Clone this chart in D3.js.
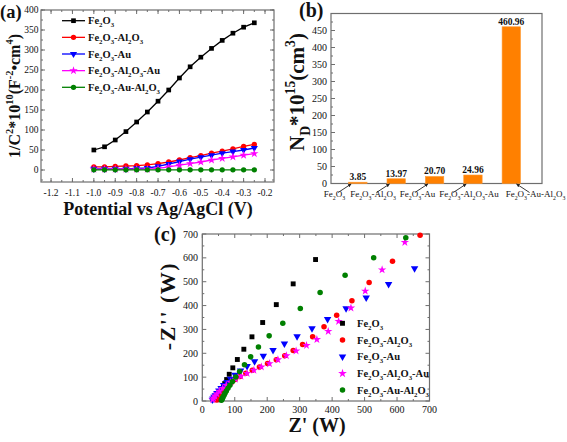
<!DOCTYPE html>
<html><head><meta charset="utf-8">
<script src="https://cdn.jsdelivr.net/npm/d3@7"></script>
<style>
html,body{margin:0;padding:0;background:#fff;}
svg{display:block;font-family:"Liberation Serif","Times New Roman",serif;}
</style></head>
<body>
<svg id="fig" width="567" height="442"></svg>
<script>
// ---------- Panel (a) data ----------
const aPotential = [-1.0,-0.95,-0.9,-0.85,-0.8,-0.75,-0.7,-0.65,-0.6,-0.55,-0.5,-0.45,-0.4,-0.35,-0.3,-0.25];
const aFe2O3      = [50,58,75,96,120,145,172,200,230,258,282,304,324,342,357,368];
const aFe2O3Al2O3 = [8,8,9,10,11,13,16,20,25,31,36,42,47,53,59,64];
const aFe2O3Au    = [3,3,3,3,4,5,9,15,21,27,32,37,42,46,50,55];
const aFe2O3Al2O3Au = [2,2,2,2,2,2,4,8,12,16,20,25,29,33,37,41];
const aFe2O3AuAl2O3 = [0.5,0.5,0.5,0.5,0.5,0.5,0.5,0.5,0.5,0.5,0.5,0.5,0.5,0.5,0.5,0.5];
const aXTicks = [-1.2,-1.1,-1.0,-0.9,-0.8,-0.7,-0.6,-0.5,-0.4,-0.3,-0.2];
const aYTicks = [0,50,100,150,200,250,300,350,400];

// ---------- Panel (b) data ----------
const bCategories = ["Fe_{2}O_{3}","Fe_{2}O_{3}-Al_{2}O_{3}","Fe_{2}O_{3}-Au","Fe_{2}O_{3}-Al_{2}O_{3}-Au","Fe_{2}O_{3}-Au-Al_{2}O_{3}"];
const bValues = [3.85,13.97,20.70,24.96,460.96];
const bValueLabels = ["3.85","13.97","20.70","24.96","460.96"];
const bYTicks = [0,50,100,150,200,250,300,350,400,450];

// ---------- Panel (c) data (Z', -Z'') ----------
const cFe2O3 = [[349,593],[280,491],[228,404],[186,329],[153,269],[128,217],[108,174],[94,139],[83,112],[75,90],[69,73],[65,58],[62,46],[60,36],[58,27],[57,20],[56,14],[55,9],[54,5]];
const cFe2O3Al2O3 = [[671,695],[586,586],[514,497],[461,420],[414,359],[375,311],[340,269],[309,237],[280,212],[254,190],[228,173],[201,157],[176,142],[154,129],[134,116],[116,103],[101,90],[89,77],[79,64],[71,52],[64,41],[58,31],[53,22],[49,15],[46,9],[44,4]];
const cFe2O3Au = [[654,556],[574,490],[505,433],[443,388],[386,343],[338,304],[292,271],[253,240],[218,213],[188,189],[161,166],[138,146],[118,127],[101,109],[87,93],[76,79],[66,66],[58,54],[51,43],[45,33],[40,24],[36,17],[33,10],[31,5]];
const cFe2O3Al2O3Au = [[624,665],[554,550],[502,461],[458,390],[420,334],[388,292],[353,258],[321,233],[289,210],[259,190],[233,173],[207,157],[182,143],[159,129],[138,116],[119,104],[102,92],[87,79],[74,66],[63,53],[53,41],[45,30],[39,20],[35,12],[32,6]];
const cFe2O3AuAl2O3 = [[627,684],[528,600],[440,527],[363,455],[302,388],[248,326],[206,273],[173,226],[149,185],[130,152],[115,124],[103,101],[93,82],[85,66],[79,53],[74,42],[70,32],[67,24],[64,17],[62,11],[60,6],[59,3]];
const cTicks = [0,100,200,300,400,500,600,700];

const seriesNames = ["Fe_{2}O_{3}","Fe_{2}O_{3}-Al_{2}O_{3}","Fe_{2}O_{3}-Au","Fe_{2}O_{3}-Al_{2}O_{3}-Au","Fe_{2}O_{3}-Au-Al_{2}O_{3}"];
const seriesColors = ["#000000","#ff0000","#0000ff","#ff00ff","#008000"];
const symTypes = [d3.symbolSquare, d3.symbolCircle, d3.symbolTriangle, d3.symbolStar, d3.symbolCircle];
const symRot = [0,0,180,0,0];

const svg = d3.select("#fig");
svg.append("rect").attr("width",567).attr("height",442).attr("fill","#fff");
const frameColor = "#6e6e6e";
const textColor = "#111";

function rich(sel, str, size){
  const re = /([_^])\{([^}]*)\}|([^_^]+)/g;
  let m, cur = 0;
  while((m = re.exec(str))){
    let tgt, txt, fs;
    if(m[3]){ tgt = 0; txt = m[3]; fs = size; }
    else { tgt = m[1]==="_" ? 0.3*size : -0.42*size; txt = m[2]; fs = size*0.65; }
    sel.append("tspan").attr("font-size", fs).attr("dy", tgt-cur).text(txt);
    cur = tgt;
  }
}

function symbolPath(i, size){ return d3.symbol().type(symTypes[i]).size(size)(); }

function frame(g, x0, x1, y0, y1){
  g.append("rect").attr("x",x0).attr("y",y1).attr("width",x1-x0).attr("height",y0-y1)
    .attr("fill","none").attr("stroke",frameColor).attr("stroke-width",1.2);
}

function ticksX(g, xs, vals, y, dir, len){
  g.selectAll(null).data(vals).enter().append("line")
    .attr("x1",d=>xs(d)).attr("x2",d=>xs(d)).attr("y1",y).attr("y2",y+dir*len)
    .attr("stroke",frameColor).attr("stroke-width",1);
}
function ticksY(g, ys, vals, x, dir, len){
  g.selectAll(null).data(vals).enter().append("line")
    .attr("y1",d=>ys(d)).attr("y2",d=>ys(d)).attr("x1",x).attr("x2",x+dir*len)
    .attr("stroke",frameColor).attr("stroke-width",1);
}
function range(a,b,s){ const r=[]; for(let v=a; v<=b+1e-9; v+=s) r.push(+v.toFixed(4)); return r; }

// ================= Panel (a) =================
{
  const g = svg.append("g");
  const x = d3.scaleLinear().domain([-1.247,-0.158]).range([41,274]);
  const y = d3.scaleLinear().domain([-30,400]).range([182,10]);
  const xMin = range(-1.2,-0.2,0.05), yMin = range(-25,400,25);
  ticksX(g,x,xMin,182,-1,2); ticksX(g,x,aXTicks,182,-1,4);
  ticksX(g,x,xMin,10,1,2); ticksX(g,x,aXTicks,10,1,4);
  ticksY(g,y,yMin,41,1,2); ticksY(g,y,aYTicks,41,1,4);
  ticksY(g,y,yMin,274,-1,2); ticksY(g,y,aYTicks,274,-1,4);
  frame(g,41,274,182,10);
  g.selectAll(null).data(aXTicks).enter().append("text")
    .attr("x",d=>x(d)).attr("y",196).attr("text-anchor","middle").attr("font-size",9.5).attr("fill",textColor)
    .text(d=>d.toFixed(1));
  g.selectAll(null).data(aYTicks).enter().append("text")
    .attr("x",38.5).attr("y",d=>y(d)+3.3).attr("text-anchor","end").attr("font-size",9.5).attr("fill",textColor)
    .text(d=>d);
  const all = [aFe2O3,aFe2O3Al2O3,aFe2O3Au,aFe2O3Al2O3Au,aFe2O3AuAl2O3];
  const line = d3.line().x((d,i)=>x(aPotential[i])).y(d=>y(d));
  all.forEach((s,k)=>{
    g.append("path").attr("d",line(s)).attr("fill","none").attr("stroke",seriesColors[k]).attr("stroke-width",1.3);
    g.selectAll(null).data(s).enter().append("path")
      .attr("d",symbolPath(k,22))
      .attr("transform",(d,i)=>`translate(${x(aPotential[i])},${y(d)}) rotate(${symRot[k]})`)
      .attr("fill",seriesColors[k]);
  });
  seriesNames.forEach((n,k)=>{
    const yy = 20.7 + k*16.65;
    g.append("line").attr("x1",62).attr("x2",85).attr("y1",yy).attr("y2",yy).attr("stroke",seriesColors[k]).attr("stroke-width",1.3);
    g.append("path").attr("d",symbolPath(k,22)).attr("transform",`translate(73.5,${yy}) rotate(${symRot[k]})`).attr("fill",seriesColors[k]);
    const t = g.append("text").attr("x",88).attr("y",yy+3.5).attr("font-weight","bold").attr("fill",textColor);
    rich(t,n,10.5);
  });
  const yl = g.append("text").attr("transform","rotate(-90)").attr("x",-96).attr("y",20)
    .attr("text-anchor","middle").attr("font-weight","bold").attr("fill",textColor);
  rich(yl,"1/C^{2}*10^{10}(F^{-2}•cm^{4})",16);
  g.append("text").attr("x",158).attr("y",215).attr("text-anchor","middle").attr("font-weight","bold")
    .attr("font-size",18).attr("fill",textColor).text("Potential vs Ag/AgCl (V)");
  g.append("text").attr("x",0).attr("y",18).attr("font-weight","bold").attr("font-size",18.5).attr("fill",textColor).text("(a)");
}

// ================= Panel (b) =================
{
  const g = svg.append("g");
  const x = d3.scaleLinear().domain([0.3,5.8]).range([331,542]);
  const y = d3.scaleLinear().domain([0,500]).range([183.5,13.5]);
  const step = x(2)-x(1), bw = step*0.48;
  const yMin = range(25,475,25);
  ticksY(g,y,yMin,331,1,2); ticksY(g,y,bYTicks,331,1,4);
  frame(g,331,542,183.5,13.5);
  g.selectAll(null).data(bYTicks).enter().append("text")
    .attr("x",327).attr("y",d=>y(d)+3.5).attr("text-anchor","end").attr("font-size",10).attr("fill",textColor)
    .text(d=>d);
  g.selectAll(null).data(bValues).enter().append("rect")
    .attr("x",(d,i)=>x(i+1)-bw/2).attr("width",bw)
    .attr("y",d=>y(d)).attr("height",d=>y(0)-y(d))
    .attr("fill","#ff8000").attr("stroke","#ff9a33").attr("stroke-width",0.6);
  g.selectAll(null).data(bValues).enter().append("text")
    .attr("x",(d,i)=>x(i+1)).attr("y",d=>y(d)-2).attr("text-anchor","middle")
    .attr("font-weight","bold").attr("font-size",9.5).attr("fill",textColor)
    .text((d,i)=>bValueLabels[i]);
  const labX = [334.5,373,417.5,469,535.5];
  bCategories.forEach((c,i)=>{
    const t = g.append("text").attr("x",labX[i]).attr("y",197).attr("text-anchor","middle").attr("font-size",9).attr("fill",textColor);
    rich(t,c,9);
  });
  const defs = svg.append("defs");
  defs.append("marker").attr("id","ah").attr("viewBox","0 0 10 10").attr("refX",9).attr("refY",5)
    .attr("markerWidth",4).attr("markerHeight",4).attr("orient","auto")
    .append("path").attr("d","M0,0L10,5L0,10z").attr("fill","#222");
  bValues.forEach((d,i)=>{
    const last = i===bValues.length-1;
    const ex = last ? x(i+1)+bw/2-4 : x(i+1)-bw/2+2.5;
    const ey = y(0)+0.5;
    const sx = last ? ex+13 : ex-13;
    const sy = ey+8.5;
    g.append("line").attr("x1",sx).attr("y1",sy).attr("x2",ex).attr("y2",ey)
      .attr("stroke","#222").attr("stroke-width",0.9).attr("marker-end","url(#ah)");
  });
  const yl = g.append("text").attr("transform","rotate(-90)").attr("x",-92).attr("y",304)
    .attr("text-anchor","middle").attr("font-weight","bold").attr("fill",textColor);
  rich(yl,"N_{D}*10^{15}(cm^{3})",21);
  g.append("text").attr("x",299).attr("y",17).attr("font-weight","bold").attr("font-size",20).attr("fill",textColor).text("(b)");
}

// ================= Panel (c) =================
{
  const g = svg.append("g");
  const x = d3.scaleLinear().domain([0,700]).range([202.3,429.5]);
  const y = d3.scaleLinear().domain([0,700]).range([401,234]);
  const mins = range(50,650,100);
  ticksX(g,x,mins,401,-1,2); ticksX(g,x,cTicks,401,-1,4);
  ticksX(g,x,mins,234,1,2); ticksX(g,x,cTicks,234,1,4);
  ticksY(g,y,mins,202.3,1,2); ticksY(g,y,cTicks,202.3,1,4);
  ticksY(g,y,mins,429.5,-1,2); ticksY(g,y,cTicks,429.5,-1,4);
  frame(g,202.3,429.5,401,234);
  g.selectAll(null).data(cTicks).enter().append("text")
    .attr("x",d=>x(d)).attr("y",413).attr("text-anchor","middle").attr("font-size",10).attr("fill",textColor)
    .text(d=>d);
  g.selectAll(null).data(cTicks).enter().append("text")
    .attr("x",198).attr("y",d=>y(d)+3.5).attr("text-anchor","end").attr("font-size",10).attr("fill",textColor)
    .text(d=>d);
  const all = [cFe2O3,cFe2O3Al2O3,cFe2O3Au,cFe2O3Al2O3Au,cFe2O3AuAl2O3];
  all.forEach((s,k)=>{
    g.selectAll(null).data(s).enter().append("path")
      .attr("d",symbolPath(k,k===3?22:24))
      .attr("transform",d=>`translate(${x(d[0])},${y(d[1])}) rotate(${symRot[k]})`)
      .attr("fill",seriesColors[k]);
  });
  seriesNames.forEach((n,k)=>{
    const yy = 323.3 + k*16.7;
    g.append("path").attr("d",symbolPath(k,24)).attr("transform",`translate(342.5,${yy}) rotate(${symRot[k]})`).attr("fill",seriesColors[k]);
    const t = g.append("text").attr("x",357).attr("y",yy+3.5).attr("font-weight","bold").attr("fill",textColor);
    rich(t,n,10.5);
  });
  g.append("text").attr("transform","rotate(-90)").attr("x",-306).attr("y",175)
    .attr("text-anchor","middle").attr("font-weight","bold").attr("font-size",22).attr("letter-spacing",1.5)
    .attr("fill",textColor).text("-Z'' (W)");
  g.append("text").attr("x",317).attr("y",432).attr("text-anchor","middle").attr("font-weight","bold")
    .attr("font-size",20).attr("fill",textColor).text("Z' (W)");
  g.append("text").attr("x",154).attr("y",241).attr("font-weight","bold").attr("font-size",20).attr("fill",textColor).text("(c)");
}
</script>
</body></html>
